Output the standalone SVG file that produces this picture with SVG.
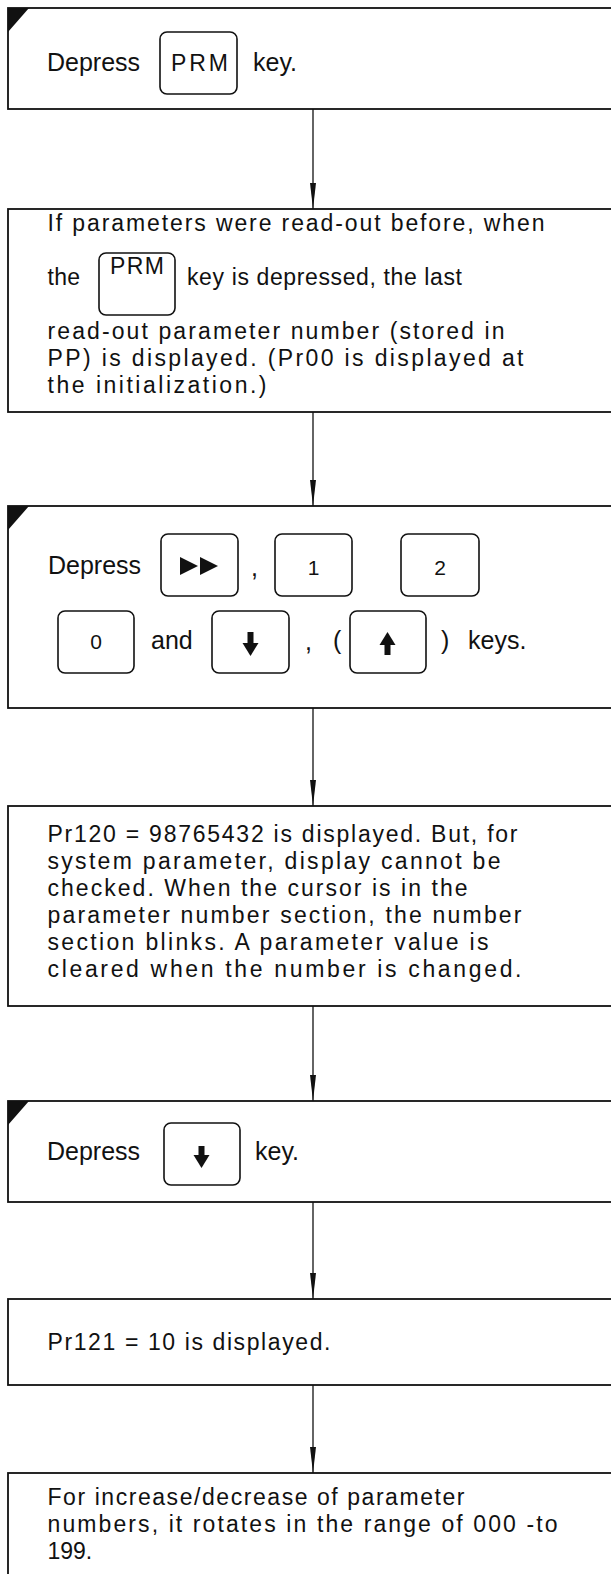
<svg xmlns="http://www.w3.org/2000/svg" width="611" height="1574" viewBox="0 0 611 1574">
<style>
.box{fill:#fff;stroke:#111;stroke-width:1.8}
.key{fill:none;stroke:#111;stroke-width:1.6}
.mark{fill:#111;stroke:none}
.t{font-family:"Liberation Sans",Arial,sans-serif;font-size:23px;fill:#111}
.k{font-size:25px}
.d{font-size:21px;text-anchor:middle}
.conn{stroke:#111;stroke-width:1.3;fill:none}
</style>
<defs>
<marker id="ah" viewBox="0 0 26 6" refX="26" refY="3" markerWidth="26" markerHeight="6" markerUnits="userSpaceOnUse" orient="auto">
<path d="M0,0 L26,3 L0,6 Z" fill="#111"/>
</marker>
</defs>
<rect x="0" y="0" width="611" height="1574" fill="#fff"/>

<g id="node1">
<rect class="box" x="8" y="8" width="640" height="101"/>
<polygon class="mark" points="8,8 29,8 8,32"/>
<text class="t k" x="47" y="71">Depress</text>
<rect class="key" x="160" y="32" width="77" height="62" rx="7"/>
<text class="t" x="171" y="71" textLength="57">PRM</text>
<text class="t k" x="253" y="71">key.</text>
</g>

<g id="node2">
<rect class="box" x="8" y="209" width="640" height="203"/>
<text class="t" x="47.5" y="231" textLength="497">If parameters were read-out before, when</text>
<text class="t" x="47.5" y="285" textLength="32.5">the</text>
<rect class="key" x="99" y="253" width="76" height="62" rx="7"/>
<text class="t" x="110" y="274" textLength="54">PRM</text>
<text class="t" x="187" y="285" textLength="275">key is depressed, the last</text>
<text class="t" x="47.5" y="339" textLength="457">read-out parameter number  (stored in</text>
<text class="t" x="47.5" y="366" textLength="476">PP)  is displayed. (Pr00 is displayed at</text>
<text class="t" x="47.5" y="393" textLength="219">the initialization.)</text>
</g>

<g id="node3">
<rect class="box" x="8" y="506" width="640" height="202"/>
<polygon class="mark" points="8,506 29,506 8,530"/>
<text class="t k" x="48" y="574">Depress</text>
<rect class="key" x="161" y="534" width="77" height="62" rx="7"/>
<polygon class="mark" points="180,557 198,566 180,575"/>
<polygon class="mark" points="200,557 218,566 200,575"/>
<text class="t k" x="251" y="576">,</text>
<rect class="key" x="275" y="534" width="77" height="62" rx="7"/>
<text class="t d" x="313.5" y="575">1</text>
<rect class="key" x="401" y="534" width="78" height="62" rx="7"/>
<text class="t d" x="440" y="575">2</text>
<rect class="key" x="58" y="611" width="76" height="62" rx="7"/>
<text class="t d" x="96" y="649">0</text>
<text class="t k" x="151" y="649">and</text>
<rect class="key" x="212" y="611" width="77" height="62" rx="7"/>
<rect class="mark" x="247.5" y="632" width="6" height="12"/>
<polygon class="mark" points="242.5,643 258.5,643 250.5,656"/>
<text class="t k" x="305" y="650">,</text>
<text class="t k" x="333" y="649">(</text>
<rect class="key" x="350" y="611" width="76" height="62" rx="7"/>
<polygon class="mark" points="379.5,645 395.5,645 387.5,632"/>
<rect class="mark" x="384.5" y="644" width="6" height="11"/>
<text class="t k" x="441" y="649">)</text>
<text class="t k" x="468" y="649">keys.</text>
</g>

<g id="node4">
<rect class="box" x="8" y="806" width="640" height="200"/>
<text class="t" x="47.5" y="842" textLength="470">Pr120 = 98765432 is displayed. But, for</text>
<text class="t" x="47.5" y="869" textLength="453">system parameter, display cannot be</text>
<text class="t" x="47.5" y="896" textLength="420">checked.  When the cursor is in the</text>
<text class="t" x="47.5" y="923" textLength="474">parameter number section, the number</text>
<text class="t" x="47.5" y="950" textLength="441">section blinks.  A parameter value is</text>
<text class="t" x="47.5" y="977" textLength="474">cleared when the number is changed.</text>
</g>

<g id="node5">
<rect class="box" x="8" y="1101" width="640" height="101"/>
<polygon class="mark" points="8,1101 29,1101 8,1125"/>
<text class="t k" x="47" y="1160">Depress</text>
<rect class="key" x="164" y="1123" width="76" height="62" rx="7"/>
<rect class="mark" x="198.5" y="1146" width="6" height="11"/>
<polygon class="mark" points="193.5,1155 209.5,1155 201.5,1168"/>
<text class="t k" x="255" y="1160">key.</text>
</g>

<g id="node6">
<rect class="box" x="8" y="1299" width="640" height="86"/>
<text class="t" x="47.5" y="1350" textLength="283">Pr121 = 10 is displayed.</text>
</g>

<g id="node7">
<rect class="box" x="8" y="1473" width="640" height="140"/>
<text class="t" x="47.5" y="1505" textLength="417">For increase/decrease of parameter</text>
<text class="t" x="47.5" y="1532" textLength="510">numbers, it rotates in the range of 000 -to</text>
<text class="t" x="47.5" y="1559">199.</text>
</g>

<g id="connectors">
<line class="conn" x1="313" y1="109" x2="313" y2="209" marker-end="url(#ah)"/>
<line class="conn" x1="313" y1="412" x2="313" y2="506" marker-end="url(#ah)"/>
<line class="conn" x1="313" y1="708" x2="313" y2="806" marker-end="url(#ah)"/>
<line class="conn" x1="313" y1="1006" x2="313" y2="1101" marker-end="url(#ah)"/>
<line class="conn" x1="313" y1="1202" x2="313" y2="1299" marker-end="url(#ah)"/>
<line class="conn" x1="313" y1="1385" x2="313" y2="1473" marker-end="url(#ah)"/>
</g>
</svg>
